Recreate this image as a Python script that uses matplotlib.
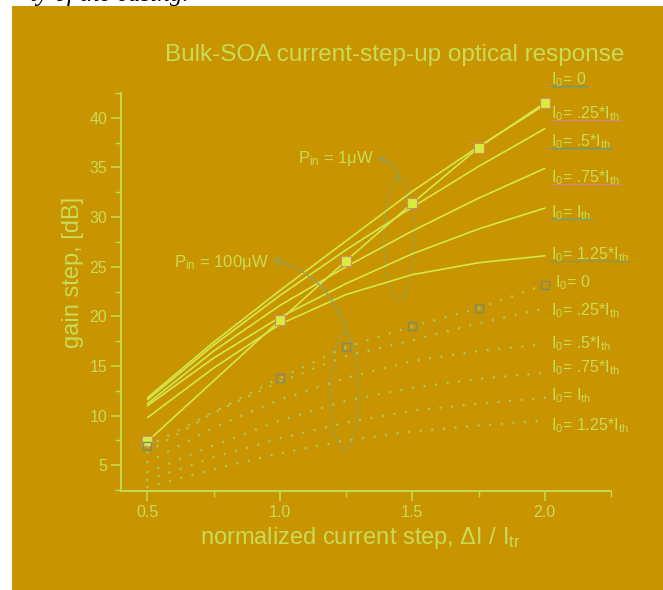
import matplotlib
matplotlib.use("Agg")
import matplotlib.pyplot as plt
from matplotlib.patches import Ellipse, Rectangle
from matplotlib.lines import Line2D
from matplotlib.ticker import MultipleLocator

# normalized current step positions used by the model curves
x_steps = [0.5, 0.75, 1.0, 1.25, 1.5, 1.75, 2.0]

# Pin = 1 uW, model curves (gain step in dB) for I0 = .25, .5, .75, 1, 1.25 * Ith
gain_1uw_025 = [11.8, 17.4, 22.6, 27.6, 32.6, 37.1, 41.3]
gain_1uw_050 = [11.6, 17.1, 22.1, 26.7, 31.0, 35.1, 38.9]
gain_1uw_075 = [11.2, 16.5, 21.1, 25.0, 28.6, 31.9, 34.9]
gain_1uw_100 = [11.0, 15.8, 19.9, 23.3, 26.3, 28.8, 30.9]
gain_1uw_125 = [9.8, 14.8, 19.2, 22.2, 24.2, 25.4, 26.1]

# Pin = 100 uW, model curves for the same bias points
gain_100uw_025 = [6.3, 10.3, 13.4, 16.0, 17.6, 19.3, 20.8]
gain_100uw_050 = [5.3, 8.8, 11.6, 13.8, 15.5, 16.5, 17.2]
gain_100uw_075 = [4.3, 7.0, 9.5, 11.5, 12.8, 13.7, 14.3]
gain_100uw_100 = [3.5, 5.8, 7.7, 9.3, 10.5, 11.2, 11.8]
gain_100uw_125 = [2.8, 4.6, 6.2, 7.5, 8.4, 9.0, 9.5]

# I0 = 0 curves with symbols
x_meas = [0.5, 1.0, 1.25, 1.5, 1.75, 2.0]
gain_1uw_0 = [7.4, 19.6, 25.6, 31.4, 37.0, 41.5]
gain_100uw_0 = [6.9, 13.8, 16.9, 19.0, 20.8, 23.2]

upper_labels = ["I$_0$= 0", "I$_0$= .25*I$_{th}$", "I$_0$= .5*I$_{th}$",
                "I$_0$= .75*I$_{th}$", "I$_0$= I$_{th}$", "I$_0$= 1.25*I$_{th}$"]
upper_label_y = [43.8, 40.4, 37.6, 34.0, 30.4, 26.2]
lower_labels = ["I$_0$= 0", "I$_0$= .25*I$_{th}$", "I$_0$= .5*I$_{th}$",
                "I$_0$= .75*I$_{th}$", "I$_0$= I$_{th}$", "I$_0$= 1.25*I$_{th}$"]
lower_label_y = [23.4, 20.6, 17.2, 14.8, 12.0, 9.0]

BG = "#C89400"
LINE = "#D4E84C"
TEXT = "#C8DC58"
AXIS = "#C4D84C"
THIN = "#8FA466"
DOTS = "#B0C45C"

plt.rcParams["font.family"] = ["Liberation Sans", "DejaVu Sans"]
plt.rcParams["mathtext.default"] = "regular"


def draw_gain_chart():
    fig = plt.figure(figsize=(6.63, 5.90), dpi=100, facecolor="white")
    # coloured panel behind the plot
    fig.add_artist(Rectangle((12 / 663, 0), 1, 1 - 6 / 590, transform=fig.transFigure,
                             facecolor=BG, edgecolor="none", zorder=-10))
    fig.text(0.045, 1 - 1.5 / 590, "ty of the casing.", fontsize=18, style="italic",
             family="Liberation Serif", color="black", va="baseline")

    ax = fig.add_axes([121 / 663, 1 - 491 / 590, (611 - 121) / 663, (491 - 93) / 590])
    ax.patch.set_alpha(0)

    model_1uw = [gain_1uw_025, gain_1uw_050, gain_1uw_075, gain_1uw_100, gain_1uw_125]
    model_100uw = [gain_100uw_025, gain_100uw_050, gain_100uw_075, gain_100uw_100, gain_100uw_125]

    for g in model_1uw:
        ax.plot(x_steps, g, color=LINE, lw=1.2, solid_capstyle="round")
    ax.plot(x_meas, gain_1uw_0, color=LINE, lw=1.2, marker="s", ms=6.5,
            mfc="#D8EC3C", mec="#C89070", mew=0.8)

    for g in model_100uw:
        ax.plot(x_steps, g, color=DOTS, lw=1.9, linestyle=(0, (0.01, 4.4)),
                dash_capstyle="round")
    ax.plot(x_meas, gain_100uw_0, color=DOTS, lw=1.9, linestyle=(0, (0.01, 4.4)),
            dash_capstyle="round", marker="s", ms=6, mfc="none", mec="#7E8A6E", mew=1.0)

    # ellipses grouping the two input power levels
    ax.add_patch(Ellipse((1.449, 27.8), 0.113, 12.3, fill=False, edgecolor=THIN,
                         lw=1.0, linestyle=(0, (1.5, 1))))
    ax.add_patch(Ellipse((1.244, 12.4), 0.106, 11.6, fill=False, edgecolor=THIN,
                         lw=1.0, linestyle=(0, (1.5, 1))))

    ax.text(1.07, 35.9, "P$_{in}$ = 1$\\mu$W", color=TEXT, fontsize=12, va="center")
    ax.annotate("", xy=(1.36, 35.9), xytext=(1.452, 33.3),
                arrowprops=dict(arrowstyle="->,head_length=0.4,head_width=0.2", color=THIN,
                                lw=0.9, connectionstyle="arc3,rad=0.45"))
    ax.text(0.60, 25.4, "P$_{in}$ = 100$\\mu$W", color=TEXT, fontsize=12, va="center")
    ax.annotate("", xy=(0.965, 25.8), xytext=(1.257, 17.8),
                arrowprops=dict(arrowstyle="->,head_length=0.4,head_width=0.2", color=THIN,
                                lw=0.9, connectionstyle="arc3,rad=0.3"))

    upper_texts = []
    for lab, y in zip(upper_labels, upper_label_y):
        upper_texts.append(ax.text(2.025, y, lab, color=TEXT, fontsize=11.5,
                                   va="center", clip_on=False))
    for i, (lab, y) in enumerate(zip(lower_labels, lower_label_y)):
        ax.text(2.04 if i == 0 else 2.025, y, lab, color=TEXT, fontsize=11.5,
                va="center", clip_on=False)

    ax.set_xlim(0.4, 2.25)
    ax.set_ylim(2.4, 42.5)
    ax.xaxis.set_minor_locator(MultipleLocator(0.25))
    ax.yaxis.set_minor_locator(MultipleLocator(2.5))
    ax.set_xticks([0.5, 1.0, 1.5, 2.0])
    ax.set_yticks([5, 10, 15, 20, 25, 30, 35, 40])

    for side in ("top", "right"):
        ax.spines[side].set_visible(False)
    for side in ("left", "bottom"):
        ax.spines[side].set_color(AXIS)
        ax.spines[side].set_linewidth(1.5)
    ax.tick_params(which="major", direction="out", length=7, width=1.2, color=AXIS,
                   labelcolor=TEXT, labelsize=11.5, pad=3)
    ax.tick_params(which="minor", direction="out", length=4, width=1.0, color=AXIS)

    ax.set_xlabel("normalized current step, $\\Delta$I / I$_{tr}$", color=TEXT,
                  fontsize=17, va="center")
    ax.xaxis.set_label_coords((360 - 121) / 490, -(538 - 491) / 398)
    ax.set_ylabel("gain step, [dB]", color=TEXT, fontsize=17, va="center")
    ax.yaxis.set_label_coords(-(121 - 73) / 490, (491 - 272) / 398)
    fig.text(395 / 663, 1 - 55 / 590, "Bulk-SOA current-step-up optical response",
             color=TEXT, fontsize=17.5, ha="center", va="center")

    # coloured rules under the Pin = 1 uW legend labels
    rule_colors = ["#5E9E86", "#D08A7A", "#5E9E86", "#D08A7A", "#6EA07A", "#8A9A48"]
    fig.canvas.draw()
    renderer = fig.canvas.get_renderer()
    inv = fig.transFigure.inverted()
    for txt, col in zip(upper_texts, rule_colors):
        bb = txt.get_window_extent(renderer)
        (x0, y0), (x1, _) = inv.transform([(bb.x0, bb.y0 + 3), (bb.x1, bb.y0)])
        fig.add_artist(Line2D([x0, x1], [y0, y0], transform=fig.transFigure,
                              color=col, lw=1.0))

    fig.savefig("out.png", dpi=100, facecolor="white")


if __name__ == "__main__":
    draw_gain_chart()
